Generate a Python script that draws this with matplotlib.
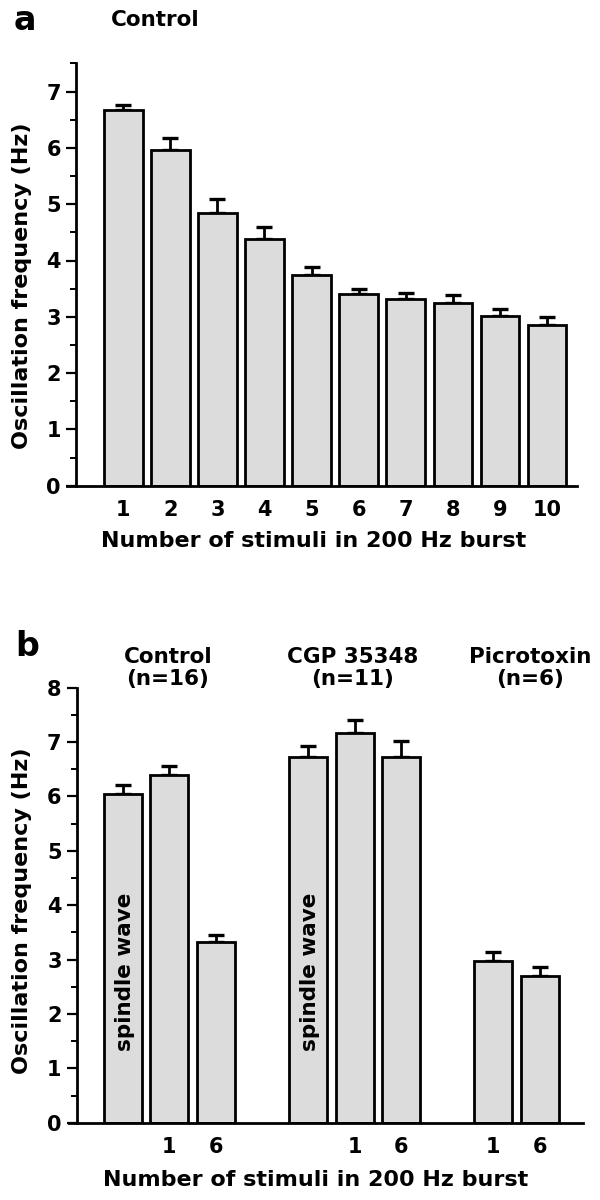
import matplotlib
matplotlib.use("Agg")
import matplotlib.pyplot as plt
from matplotlib.ticker import MultipleLocator

# panel a: number of stimuli vs oscillation frequency (mean + SEM)
stim_a = [1, 2, 3, 4, 5, 6, 7, 8, 9, 10]
freq_a = [6.67, 5.96, 4.85, 4.39, 3.75, 3.41, 3.31, 3.25, 3.02, 2.86]
sem_a = [0.09, 0.21, 0.25, 0.20, 0.13, 0.09, 0.12, 0.13, 0.12, 0.14]

# panel b: three conditions, spindle wave / 1 / 6 stimuli
groups_b = ["Control\n(n=16)", "CGP 35348\n(n=11)", "Picrotoxin\n(n=6)"]
pos_b = [1, 2, 3, 5, 6, 7, 9, 10]
freq_b = [6.05, 6.39, 3.32, 6.73, 7.17, 6.73, 2.97, 2.70]
sem_b = [0.16, 0.16, 0.13, 0.20, 0.24, 0.28, 0.16, 0.16]
tick_pos_b = [2, 3, 6, 7, 9, 10]
tick_lab_b = ["1", "6", "1", "6", "1", "6"]
spindle_pos = [1, 5]

W, H = 600, 1200
plt.rcParams['font.family'] = ['DejaVu Sans']
plt.rcParams['font.weight'] = 'bold'

fig = plt.figure(figsize=(6, 12), dpi=100)

BAR = '#dcdcdc'
LW = 2.0


def style(ax, ymax):
    ax.spines['top'].set_visible(False)
    ax.spines['right'].set_visible(False)
    ax.spines['left'].set_position(('data', 0))
    ax.spines['left'].set_linewidth(LW)
    ax.spines['bottom'].set_linewidth(LW)
    ax.set_ylim(0, ymax)
    ax.yaxis.set_major_locator(MultipleLocator(1))
    ax.yaxis.set_minor_locator(MultipleLocator(0.5))
    ax.tick_params(axis='y', which='major', length=7, width=1.6,
                   labelsize=15, pad=4)
    ax.tick_params(axis='y', which='minor', length=4, width=1.4)
    ax.tick_params(axis='x', length=0, labelsize=15, pad=10)
    for t in ax.get_xticklabels() + ax.get_yticklabels():
        t.set_fontweight('bold')


# ---- panel a ----
ax1 = fig.add_axes([66.7 / W, 1 - 485.7 / H, 510 / W, 7.5 * 56.3 / H])
ax1.bar(stim_a, freq_a, width=0.82, color=BAR, edgecolor='black',
        linewidth=LW, zorder=2)
ax1.errorbar(stim_a, freq_a, yerr=[[0] * len(sem_a), sem_a], fmt='none',
             ecolor='black', elinewidth=2, capsize=6, capthick=2.4, zorder=1)
ax1.set_xlim(-0.2, 10.63)
ax1.set_xticks(stim_a)
ax1.set_xticklabels([str(s) for s in stim_a])
style(ax1, 7.5)

fig.text(25 / W, 1 - 20 / H, "a", fontsize=24, fontweight='bold',
         ha='center', va='center')
fig.text(155 / W, 1 - 20 / H, "Control", fontsize=15.5, fontweight='bold',
         ha='center', va='center')
fig.text(22 / W, 1 - 286 / H, "Oscillation frequency (Hz)", fontsize=16,
         fontweight='bold', rotation=90, ha='center', va='center')
fig.text(313.5 / W, 1 - 541 / H, "Number of stimuli in 200 Hz burst",
         fontsize=16, fontweight='bold', ha='center', va='center')

# ---- panel b ----
ax2 = fig.add_axes([69 / W, 1 - 1122.7 / H, 513.7 / W, 8 * 54.4 / H])
ax2.bar(pos_b, freq_b, width=0.82, color=BAR, edgecolor='black',
        linewidth=LW, zorder=2)
ax2.errorbar(pos_b, freq_b, yerr=[[0] * len(sem_b), sem_b], fmt='none',
             ecolor='black', elinewidth=2, capsize=6, capthick=2.4, zorder=1)
ax2.set_xlim(-0.17, 10.93)
ax2.set_xticks(tick_pos_b)
ax2.set_xticklabels(tick_lab_b)
style(ax2, 8)

for p in spindle_pos:
    ax2.text(p + 0.04, 2.78, "spindle wave", rotation=90, fontsize=15.5,
             fontweight='bold', ha='center', va='center', zorder=3)

fig.text(27 / W, 1 - 647 / H, "b", fontsize=24, fontweight='bold',
         ha='center', va='center')
head_x = [168, 353, 530]
for hx, g in zip(head_x, groups_b):
    fig.text(hx / W, 1 - 668 / H, g, fontsize=15.5, fontweight='bold',
             ha='center', va='center', linespacing=1.15)
fig.text(22 / W, 1 - 911 / H, "Oscillation frequency (Hz)", fontsize=16,
         fontweight='bold', rotation=90, ha='center', va='center')
fig.text(315.5 / W, 1 - 1180 / H, "Number of stimuli in 200 Hz burst",
         fontsize=16, fontweight='bold', ha='center', va='center')

fig.savefig("out.png", dpi=100)
